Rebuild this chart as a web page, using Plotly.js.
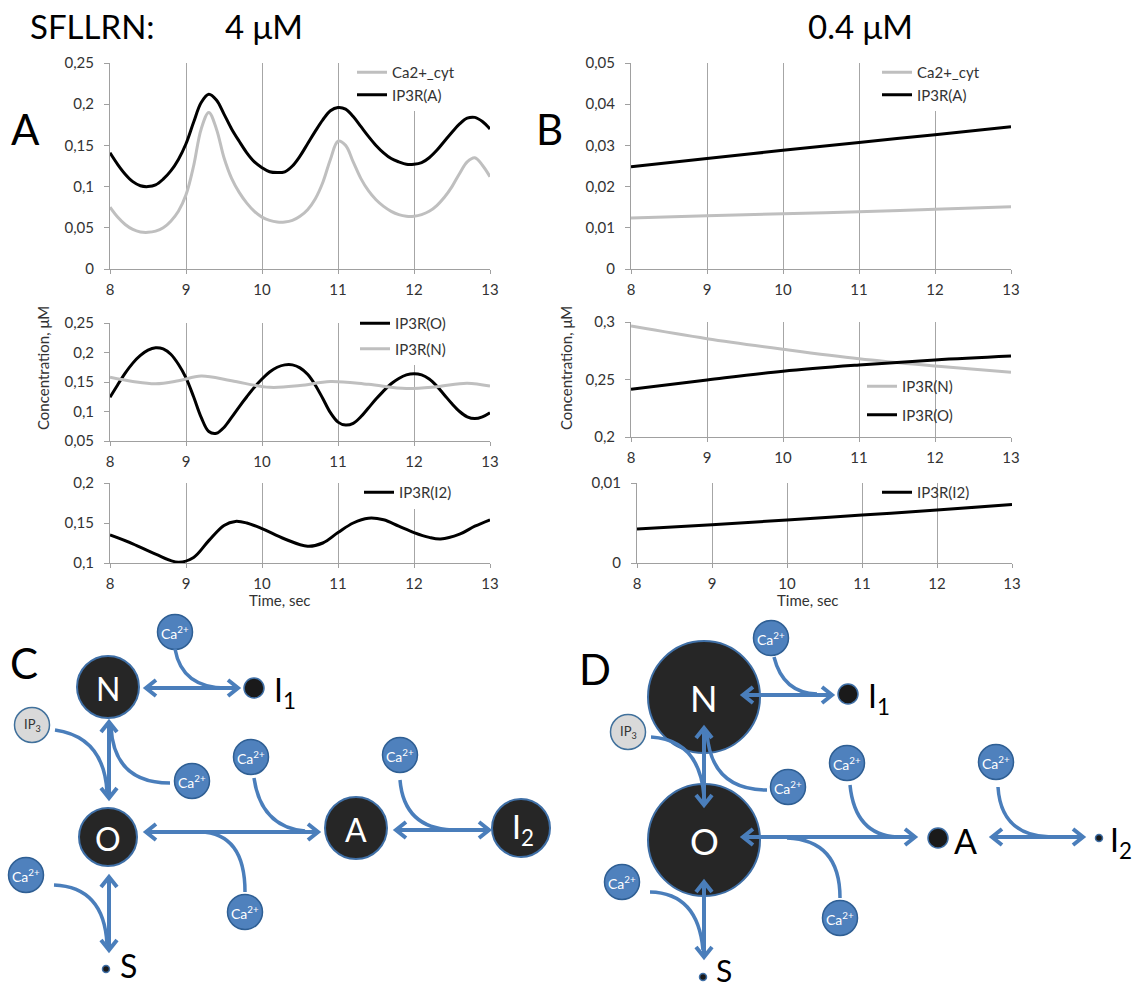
<!DOCTYPE html>
<html><head><meta charset="utf-8">
<script src="https://cdn.plot.ly/plotly-3.0.1.min.js"></script>
<style>html,body{margin:0;padding:0;background:#fff}</style>
</head><body><div id="chart" style="width:1136px;height:988px"></div>
<script>
// ---------- DATA ----------
const timeA = [8.0,8.1,8.2,8.3,8.4,8.5,8.6,8.7,8.8,8.9,9.0,9.1,9.2,9.3,9.4,9.5,9.6,9.7,9.8,9.9,10.0,10.1,10.2,10.3,10.4,10.5,10.6,10.7,10.8,10.9,11.0,11.1,11.2,11.3,11.4,11.5,11.6,11.7,11.8,11.9,12.0,12.1,12.2,12.3,12.4,12.5,12.6,12.7,12.8,12.9,13.0];
const caCytA = [0.075,0.063,0.054,0.048,0.045,0.0445,0.046,0.050,0.058,0.070,0.090,0.125,0.170,0.190,0.170,0.135,0.110,0.093,0.080,0.070,0.063,0.059,0.057,0.057,0.059,0.064,0.072,0.085,0.105,0.133,0.155,0.150,0.130,0.110,0.095,0.084,0.076,0.070,0.066,0.064,0.064,0.066,0.070,0.077,0.087,0.100,0.116,0.130,0.135,0.126,0.112];
const ip3rA_A = [0.141,0.127,0.115,0.106,0.101,0.100,0.102,0.109,0.119,0.133,0.152,0.178,0.202,0.212,0.205,0.188,0.170,0.155,0.141,0.130,0.123,0.118,0.117,0.118,0.125,0.137,0.152,0.167,0.181,0.192,0.196,0.194,0.185,0.173,0.161,0.150,0.141,0.134,0.130,0.127,0.127,0.129,0.135,0.144,0.155,0.166,0.176,0.183,0.184,0.179,0.170];
const ip3rO_A = [0.124,0.145,0.165,0.182,0.195,0.204,0.208,0.206,0.197,0.180,0.157,0.125,0.090,0.066,0.063,0.073,0.090,0.108,0.125,0.141,0.155,0.167,0.175,0.179,0.179,0.174,0.163,0.145,0.122,0.098,0.082,0.077,0.080,0.091,0.106,0.121,0.135,0.147,0.156,0.162,0.164,0.162,0.155,0.143,0.128,0.113,0.100,0.091,0.088,0.091,0.098];
const timeN_A = [8,8.3,8.6,8.9,9.2,9.6,10.1,10.5,10.9,11.4,11.9,12.3,12.7,13];
const ip3rN_A = [0.158,0.151,0.147,0.152,0.160,0.152,0.141,0.144,0.151,0.146,0.139,0.142,0.148,0.143];
const timeI2_A = [8,8.3,8.6,8.9,9.1,9.3,9.5,9.65,9.8,10.0,10.3,10.6,10.8,11.0,11.2,11.4,11.6,11.8,12.0,12.2,12.35,12.6,12.8,13.0];
const ip3rI2_A = [0.135,0.124,0.111,0.101,0.107,0.128,0.147,0.152,0.150,0.143,0.130,0.121,0.125,0.138,0.150,0.156,0.154,0.146,0.138,0.132,0.130,0.136,0.146,0.154];

const timeB = [8,9,10,11,12,13];
const caCytB = [0.0124,0.0129,0.0134,0.0139,0.0145,0.0151];
const ip3rA_B = [0.0248,0.0268,0.0288,0.0307,0.0326,0.0345];
const ip3rN_B = [0.2965,0.2855,0.2763,0.2680,0.2617,0.2562];
const ip3rO_B = [0.2415,0.2496,0.2572,0.2626,0.2670,0.2704];
const ip3rI2_B = [0.00426,0.00479,0.00537,0.00600,0.00661,0.00731];

const xTicks = [8,9,10,11,12,13];

// ---------- LAYOUT HELPERS ----------
const W = 1136, H = 988;
const FONT = 'Lato, "Open Sans", sans-serif';
const GRAY = '#bfbfbf', BLACK = '#000000', BLUE = '#4a7ebb';
const X = p => p / W;
const Y = p => 1 - p / H;

// plot areas in pixels [left, right, top, bottom]
const areas = {
  a1: [110, 490, 63, 269], b1: [631, 1011, 63, 269],
  a2: [110, 490, 323, 441], b2: [631, 1011, 322, 437],
  a3: [110, 490, 483, 563], b3: [637, 1012, 483, 563]
};

function xax(a, anchor) {
  return {domain: [X(a[0]), X(a[1])], anchor: anchor, range: [8, 13], tickvals: xTicks,
    showgrid: true, gridcolor: '#a6a6a6', gridwidth: 1, showline: true, linecolor: '#a0a0a0',
    linewidth: 1, ticks: 'outside', ticklen: 4, tickcolor: '#a0a0a0', zeroline: false,
    ticklabelstandoff: 3, tickfont: {family: FONT, size: 15, color: '#333'}, fixedrange: true};
}
function yax(a, anchor, range, dtick) {
  return {domain: [Y(a[3]), Y(a[2])], anchor: anchor, range: range, dtick: dtick, tick0: range[0],
    showgrid: false, showline: true, linecolor: '#a0a0a0', linewidth: 1, ticks: 'outside',
    ticklen: 5, tickcolor: '#a0a0a0', zeroline: false, ticklabelstandoff: 7,
    tickfont: {family: FONT, size: 15, color: '#333'}, fixedrange: true};
}
function leg(px, py, gap, bg) {
  return {x: X(px), y: Y(py), xanchor: 'left', yanchor: 'top', bgcolor: bg || 'rgba(255,255,255,1)',
    borderwidth: 0, font: {family: FONT, size: 15, color: '#333'}, tracegroupgap: gap, itemwidth: 30};
}
function line(x, y, name, color, xa, ya, lg) {
  return {type: 'scatter', mode: 'lines', x: x, y: y, name: name, xaxis: xa, yaxis: ya,
    legend: lg, legendgroup: name + xa, line: {color: color, width: 3, shape: 'spline', smoothing: 1},
    hoverinfo: 'skip'};
}

const traces = [
  line(timeA, caCytA, 'Ca2+_cyt', GRAY, 'x', 'y', 'legend'),
  line(timeA, ip3rA_A, 'IP3R(A)', BLACK, 'x', 'y', 'legend'),
  line(timeB, caCytB, 'Ca2+_cyt', GRAY, 'x2', 'y2', 'legend2'),
  line(timeB, ip3rA_B, 'IP3R(A)', BLACK, 'x2', 'y2', 'legend2'),
  line(timeA, ip3rO_A, 'IP3R(O)', BLACK, 'x3', 'y3', 'legend3'),
  line(timeN_A, ip3rN_A, 'IP3R(N)', GRAY, 'x3', 'y3', 'legend3'),
  line(timeB, ip3rN_B, 'IP3R(N)', GRAY, 'x4', 'y4', 'legend4'),
  line(timeB, ip3rO_B, 'IP3R(O)', BLACK, 'x4', 'y4', 'legend4'),
  line(timeI2_A, ip3rI2_A, 'IP3R(I2)', BLACK, 'x5', 'y5', 'legend5'),
  line(timeB, ip3rI2_B, 'IP3R(I2)', BLACK, 'x6', 'y6', 'legend6')
];

// ---------- SCHEME (pixel coordinates on an overlay axis) ----------
const nodes = [ // [cx, cy, r, label]
  [108, 687, 31, 'N'], [108, 837, 29, 'O'], [356, 828, 31, 'A'], [521, 828, 29, 'I<sub>2</sub>'],
  [704, 697, 56, 'N'], [704, 840, 56, 'O']
];
const caIons = [[175,632],[192,781],[251,757],[245,912],[400,755],[26,875],
                [771,638],[788,787],[847,763],[840,918],[996,762],[622,882]];
const ip3s = [[32,725],[628,732]];
const dots = [[254,688,20],[106,969,7],[848,694,20],[938,838,20],[1099,838,7],[703,977,7]];
const arrows = [ // double-headed
  [146,688,238,688],[109,722,109,798],[146,832,318,832],[396,830,489,830],[109,877,109,950],
  [743,695,832,695],[704,728,704,805],[743,837,915,837],[992,837,1083,837],[704,882,704,957]
];
const curves = [
  'M175,649 Q182,688 226,688','M55,730 Q104,737 107,792','M170,783 Q114,783 111,727',
  'M254,778 Q261,827 305,831','M245,892 Q245,833 200,832','M400,780 Q404,828 452,830','M54,885 Q104,887 107,944',
  'M774,657 Q783,693 817,694','M651,737 Q700,740 704,797','M767,790 Q711,790 707,733',
  'M850,785 Q855,835 897,837','M840,898 Q840,840 787,838','M998,787 Q1001,836 1051,837','M650,892 Q698,893 703,950'
];

function head(x1, y1, x2, y2) {
  const dx = x2 - x1, dy = y2 - y1, L = Math.hypot(dx, dy), ux = dx / L, uy = dy / L;
  const h = 10, w = 8;
  return 'M' + (x2 - ux*h - uy*w) + ',' + (y2 - uy*h + ux*w) + ' L' + x2 + ',' + y2 + ' L' + (x2 - ux*h + uy*w) + ',' + (y2 - uy*h - ux*w);
}

const shapes = [];
const sRef = {xref: 'x7', yref: 'y7', layer: 'above'};
arrows.forEach(a => {
  shapes.push(Object.assign({type: 'path', path: 'M' + a[0] + ',' + a[1] + ' L' + a[2] + ',' + a[3], line: {color: BLUE, width: 4}}, sRef));
  shapes.push(Object.assign({type: 'path', path: head(a[0], a[1], a[2], a[3]), line: {color: BLUE, width: 4}}, sRef));
  shapes.push(Object.assign({type: 'path', path: head(a[2], a[3], a[0], a[1]), line: {color: BLUE, width: 4}}, sRef));
});
curves.forEach(c => shapes.push(Object.assign({type: 'path', path: c, line: {color: BLUE, width: 3.5}}, sRef)));

// circle traces on the overlay axis
const mk = (pts, size, color, lc, lw) => ({type: 'scatter', mode: 'markers', x: pts.map(n => n[0]), y: pts.map(n => n[1]),
  xaxis: 'x7', yaxis: 'y7', showlegend: false, hoverinfo: 'skip',
  marker: {size: size, color: color, opacity: 1, line: {color: lc, width: lw}}});
traces.push(mk(nodes, nodes.map(n => 2*n[2]), '#262626', '#3f6fa6', 2));
traces.push(mk(caIons, 35, '#4f81bd', '#2f5f94', 1.5));
traces.push(mk(ip3s, 35, '#d9d9d9', '#41719c', 1.5));
traces.push(mk(dots, dots.map(n => n[2]), '#1a1a1a', '#3f6fa6', 1.5));

// ---------- TEXT ----------
const ann = [];
function txt(x, y, t, size, color, opts) {
  ann.push(Object.assign({xref: 'x7', yref: 'y7', x: x, y: y, text: t, showarrow: false,
    font: {family: FONT, size: size, color: color}, xanchor: 'center', yanchor: 'middle'}, opts || {}));
}
txt(92, 26, 'SFLLRN:', 33, '#000');
txt(264, 26, '4 μM', 33, '#000');
txt(860, 26, '0.4 μM', 33, '#000');
txt(25, 129, 'A', 42, '#000');
txt(549, 129, 'B', 42, '#000');
txt(24, 663, 'C', 42, '#000');
txt(595, 669, 'D', 42, '#000');
txt(43, 368, 'Concentration, μM', 15, '#333', {textangle: -90});
txt(566, 368, 'Concentration, μM', 15, '#333', {textangle: -90});
txt(280, 600, 'Time, sec', 15, '#333');
txt(808, 600, 'Time, sec', 15, '#333');
nodes.forEach(n => txt(n[0] + (n[3].length > 1 ? 2 : 0), n[1] + 1, n[3], n[2] > 40 ? 36 : 32, '#fff'));
caIons.forEach(c => txt(c[0], c[1], 'Ca<sup>2+</sup>', 14, '#fff'));
ip3s.forEach(c => txt(c[0], c[1], 'IP<sub>3</sub>', 13, '#333'));
txt(272, 692, 'I<sub>1</sub>', 32, '#000', {xanchor: 'left'});
txt(866, 698, 'I<sub>1</sub>', 32, '#000', {xanchor: 'left'});
txt(965, 840, 'A', 34, '#000');
txt(1108, 842, 'I<sub>2</sub>', 32, '#000', {xanchor: 'left'});
txt(128, 965, 'S', 32, '#000');
txt(724, 970, 'S', 30, '#000');

const layout = {
  width: W, height: H, margin: {l: 0, r: 0, t: 0, b: 0}, paper_bgcolor: '#fff', plot_bgcolor: 'rgba(0,0,0,0)',
  separators: ', ', showlegend: true, hovermode: false, dragmode: false,
  xaxis: xax(areas.a1, 'y'), yaxis: yax(areas.a1, 'x', [0, 0.25], 0.05),
  xaxis2: xax(areas.b1, 'y2'), yaxis2: yax(areas.b1, 'x2', [0, 0.05], 0.01),
  xaxis3: xax(areas.a2, 'y3'), yaxis3: yax(areas.a2, 'x3', [0.05, 0.25], 0.05),
  xaxis4: xax(areas.b2, 'y4'), yaxis4: yax(areas.b2, 'x4', [0.2, 0.3], 0.05),
  xaxis5: xax(areas.a3, 'y5'), yaxis5: yax(areas.a3, 'x5', [0.1, 0.2], 0.05),
  xaxis6: xax(areas.b3, 'y6'), yaxis6: yax(areas.b3, 'x6', [0, 0.01], 0.01),
  xaxis7: {domain: [0, 1], range: [0, W], visible: false, fixedrange: true, anchor: 'y7'},
  yaxis7: {domain: [0, 1], range: [H, 0], visible: false, fixedrange: true, anchor: 'x7'},
  legend: leg(352, 56, 0),
  legend2: leg(877, 56, 0),
  legend3: leg(355, 307, 3),
  legend4: leg(862, 370, 6, 'rgba(255,255,255,0)'),
  legend5: leg(359, 476, 0),
  legend6: leg(877, 476, 0, 'rgba(255,255,255,0)'),
  shapes: shapes, annotations: ann
};

Plotly.newPlot('chart', traces, layout, {displayModeBar: false, staticPlot: true});
</script></body></html>
